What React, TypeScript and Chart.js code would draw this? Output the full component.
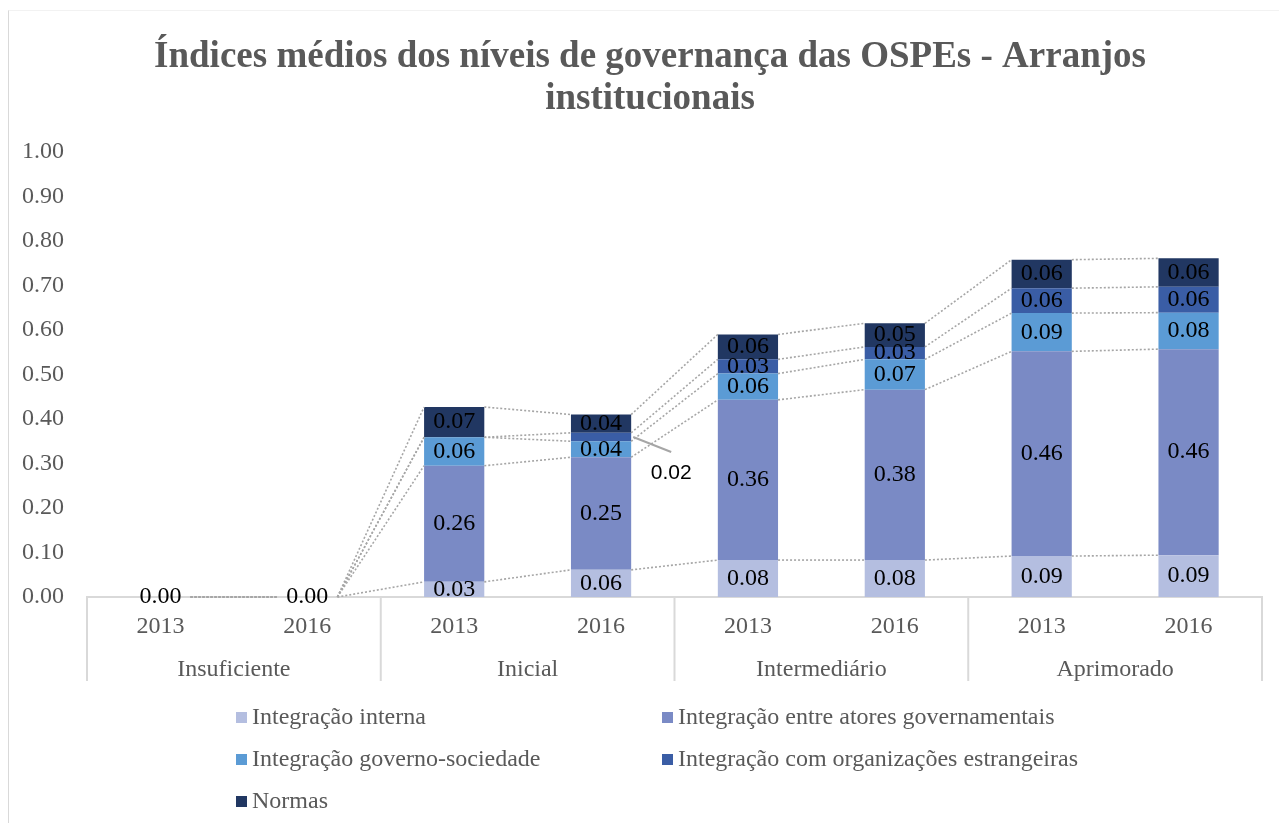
import React, { useEffect, useRef } from "react";
import { Chart, registerables } from "chart.js";

Chart.register(...registerables);

// ---- data ----
const titleLines = [
  "Índices médios dos níveis de governança das OSPEs - Arranjos",
  "institucionais",
];
const years = ["2013", "2016", "2013", "2016", "2013", "2016", "2013", "2016"];
const levels = ["Insuficiente", "Inicial", "Intermediário", "Aprimorado"];
const seriesNames = [
  "Integração interna",
  "Integração entre atores governamentais",
  "Integração governo-sociedade",
  "Integração com organizações estrangeiras",
  "Normas",
];
const integracaoInterna = [0, 0, 0.034, 0.061, 0.083, 0.083, 0.092, 0.094];
const integracaoAtores = [0, 0, 0.261, 0.253, 0.36, 0.383, 0.46, 0.463];
const integracaoSociedade = [0, 0, 0.064, 0.036, 0.059, 0.068, 0.086, 0.082];
const integracaoEstrangeiras = [0, 0, 0, 0.019, 0.032, 0.028, 0.056, 0.058];
const normas = [0, 0, 0.068, 0.041, 0.056, 0.053, 0.064, 0.064];
const yTicks = [0, 0.1, 0.2, 0.3, 0.4, 0.5, 0.6, 0.7, 0.8, 0.9, 1.0];

const seriesValues = [
  integracaoInterna,
  integracaoAtores,
  integracaoSociedade,
  integracaoEstrangeiras,
  normas,
];
const seriesColors = ["#B4BEE0", "#7A8AC5", "#5B9BD5", "#3A5DA5", "#213762"];

const SERIF = "'Liberation Serif', 'Times New Roman', serif";
const SANS = "'Liberation Sans', Arial, sans-serif";
const GREY_TEXT = "#595959";
const AXIS_GREY = "#d9d9d9";

const overlayPlugin = {
  id: "overlay",
  afterDatasetsDraw(chart: any) {
    const ctx = chart.ctx;
    const n = chart.data.labels.length;
    const nds = chart.data.datasets.length;
    const metas = chart.data.datasets.map((_: any, i: number) => chart.getDatasetMeta(i));
    ctx.save();
    // series lines
    ctx.strokeStyle = "#a6a6a6";
    ctx.lineWidth = 1.6;
    ctx.setLineDash([2, 2]);
    metas.forEach((meta: any) => {
      for (let j = 0; j < n - 1; j++) {
        const a = meta.data[j];
        const b = meta.data[j + 1];
        ctx.beginPath();
        ctx.moveTo(a.x + a.width / 2, a.y);
        ctx.lineTo(b.x - b.width / 2, b.y);
        ctx.stroke();
      }
    });
    ctx.setLineDash([]);
    // data labels
    ctx.textAlign = "center";
    ctx.textBaseline = "middle";
    for (let j = 0; j < n; j++) {
      let total = 0;
      for (let i = 0; i < nds; i++) total += chart.data.datasets[i].data[j];
      for (let i = 0; i < nds; i++) {
        const v = chart.data.datasets[i].data[j];
        const el = metas[i].data[j];
        const cy = (el.y + el.base) / 2;
        if (total === 0) {
          if (i !== 0) continue;
          ctx.font = `24px ${SERIF}`;
          ctx.fillStyle = "#000";
          ctx.fillText(v.toFixed(2), el.x, cy);
        } else if (v === 0) {
          continue;
        } else if (v < 0.025) {
          const sx = el.x + el.width / 2 + 2;
          const ex = sx + 38;
          const ey = cy + 15;
          ctx.strokeStyle = "#a6a6a6";
          ctx.lineWidth = 2;
          ctx.beginPath();
          ctx.moveTo(sx, cy);
          ctx.lineTo(ex, ey);
          ctx.stroke();
          ctx.font = `21px ${SANS}`;
          ctx.fillStyle = "#000";
          ctx.fillText(v.toFixed(2), ex, ey + 21);
        } else {
          ctx.font = `24px ${SERIF}`;
          ctx.fillStyle = "#000";
          ctx.fillText(v.toFixed(2), el.x, cy);
        }
      }
    }
    ctx.restore();
  },
  afterDraw(chart: any) {
    const ctx = chart.ctx;
    const area = chart.chartArea;
    const xs = chart.scales.x;
    ctx.save();
    // title
    ctx.font = `bold 37px ${SERIF}`;
    ctx.fillStyle = GREY_TEXT;
    ctx.textAlign = "center";
    ctx.textBaseline = "middle";
    titleLines.forEach((t, k) => {
      ctx.fillText(t, 650, 57 + k * 42);
    });
    // category separators
    ctx.strokeStyle = AXIS_GREY;
    ctx.lineWidth = 2;
    const bounds = [area.left];
    for (let g = 1; g < levels.length; g++) {
      const j = g * 2;
      bounds.push((xs.getPixelForValue(j - 1) + xs.getPixelForValue(j)) / 2);
    }
    bounds.push(area.right);
    bounds.forEach((bx) => {
      ctx.beginPath();
      ctx.moveTo(bx, area.bottom);
      ctx.lineTo(bx, area.bottom + 84);
      ctx.stroke();
    });
    // group labels
    ctx.font = `24px ${SERIF}`;
    ctx.fillStyle = GREY_TEXT;
    levels.forEach((lv, g) => {
      const cx = (xs.getPixelForValue(g * 2) + xs.getPixelForValue(g * 2 + 1)) / 2;
      ctx.fillText(lv, cx, area.bottom + 73);
    });
    // legend
    const colX = [236, 662];
    ctx.textAlign = "left";
    seriesNames.forEach((name, i) => {
      const row = Math.floor(i / 2);
      const col = i % 2;
      const y = area.bottom + 121 + row * 42;
      const x = colX[col];
      ctx.fillStyle = seriesColors[i];
      ctx.fillRect(x, y - 6, 11, 11);
      ctx.fillStyle = GREY_TEXT;
      ctx.fillText(name, x + 16, y);
    });
    ctx.restore();
  },
};

export default function App() {
  const ref = useRef<HTMLCanvasElement>(null);
  useEffect(() => {
    if (!ref.current) return;
    const chart = new Chart(ref.current, {
      type: "bar",
      data: {
        labels: years,
        datasets: seriesNames.map((name, i) => ({
          label: name,
          data: seriesValues[i],
          backgroundColor: seriesColors[i],
          borderWidth: 0,
          barPercentage: 0.41,
          categoryPercentage: 1,
        })),
      },
      options: {
        animation: false,
        responsive: true,
        maintainAspectRatio: false,
        layout: { padding: { left: 0, right: 17, top: 152, bottom: 0 } },
        plugins: {
          legend: { display: false },
          tooltip: { enabled: false },
          title: { display: false },
        },
        scales: {
          x: {
            stacked: true,
            grid: { display: false, drawTicks: false },
            border: { display: true, color: AXIS_GREY, width: 2 },
            ticks: {
              color: GREY_TEXT,
              font: { family: SERIF, size: 24 },
              padding: 15,
              autoSkip: false,
              maxRotation: 0,
            },
            afterFit: (s: any) => {
              s.height = 226;
            },
          },
          y: {
            stacked: true,
            min: 0,
            max: 1,
            grid: { display: false, drawTicks: false },
            border: { display: false },
            afterBuildTicks: (s: any) => {
              s.ticks = yTicks.map((v) => ({ value: v }));
            },
            ticks: {
              color: GREY_TEXT,
              font: { family: SERIF, size: 24 },
              padding: 23,
              callback: (v: any) => Number(v).toFixed(2),
            },
            afterFit: (s: any) => {
              s.width = 87;
            },
          },
        },
      },
      plugins: [overlayPlugin],
    });
    return () => chart.destroy();
  }, []);

  return (
    <div style={{ position: "absolute", left: 0, top: 0, width: 1279, height: 823, background: "#fff" }}>
      <div
        style={{
          position: "absolute",
          left: 8,
          top: 10,
          right: 0,
          bottom: 0,
          borderLeft: "1px solid #d9d9d9",
          borderTop: "1px solid #f2f2f2",
        }}
      />
      <canvas ref={ref} style={{ position: "relative" }} />
    </div>
  );
}
